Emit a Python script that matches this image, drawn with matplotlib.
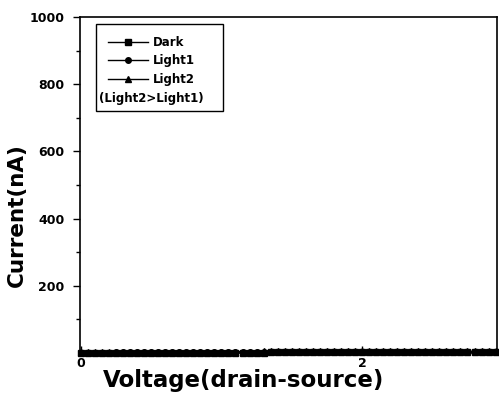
import matplotlib.pyplot as plt
from matplotlib.lines import Line2D
from matplotlib.patches import Rectangle
import numpy as np

# sweep 0 -> 3 V, 0.05 V steps
voltage = np.round(np.arange(0, 3.001, 0.05), 2)
# currents sit essentially at zero on the 0-1000 nA scale
dark = [0.5, 0.5, 0.6, 0.6, 0.7, 0.7, 0.8, 0.8, 0.9, 0.9, 1.0, 1.0, 1.0, 1.1, 1.1, 1.1,
        1.2, 1.2, 1.2, 1.3, 1.3, 1.3, 1.3, 1.4, 1.4, 1.4, 1.4, 1.5, 1.5, 1.5, 1.5,
        1.5, 1.6, 1.6, 1.6, 1.6, 1.6, 1.7, 1.7, 1.7, 1.7, 1.7, 1.7, 1.8, 1.8, 1.8,
        1.8, 1.8, 1.8, 1.8, 1.9, 1.9, 1.9, 1.9, 1.9, 1.9, 1.9, 1.9, 2.0, 2.0, 2.0]
light1 = [1.0, 1.1, 1.2, 1.3, 1.4, 1.5, 1.6, 1.7, 1.8, 1.9, 2.0, 2.0, 2.1, 2.1, 2.2, 2.2,
          2.3, 2.3, 2.4, 2.4, 2.5, 2.5, 2.5, 2.6, 2.6, 2.6, 2.7, 2.7, 2.7, 2.8, 2.8,
          2.8, 2.8, 2.9, 2.9, 2.9, 2.9, 3.0, 3.0, 3.0, 3.0, 3.0, 3.1, 3.1, 3.1, 3.1,
          3.1, 3.2, 3.2, 3.2, 3.2, 3.2, 3.2, 3.3, 3.3, 3.3, 3.3, 3.3, 3.3, 3.3, 3.4]
light2 = [1.5, 1.7, 1.9, 2.1, 2.3, 2.5, 2.7, 2.9, 3.1, 3.2, 3.3, 3.4, 3.5, 3.6, 3.7, 3.8,
          3.9, 4.0, 4.0, 4.1, 4.2, 4.2, 4.3, 4.3, 4.4, 4.4, 4.5, 4.5, 4.6, 4.6, 4.6,
          4.7, 4.7, 4.7, 4.8, 4.8, 4.8, 4.9, 4.9, 4.9, 4.9, 5.0, 5.0, 5.0, 5.0, 5.1,
          5.1, 5.1, 5.1, 5.1, 5.2, 5.2, 5.2, 5.2, 5.2, 5.2, 5.3, 5.3, 5.3, 5.3, 5.3]
labels = ['Dark', 'Light1', 'Light2']
note = '(Light2>Light1)'

plt.rcParams['font.family'] = ['DejaVu Sans']
plt.rcParams['font.weight'] = 'bold'

fig = plt.figure(figsize=(4.99, 4.0), dpi=100)
ax = fig.add_axes([0.160, 0.1175, 0.836, 0.84])

ax.plot(voltage, dark, '-', color='black', marker='s', ms=4, lw=1, clip_on=False)
ax.plot(voltage, light1, '-', color='black', marker='o', ms=4, lw=1, clip_on=False)
ax.plot(voltage, light2, '-', color='black', marker='^', ms=5, lw=1, clip_on=False)

ax.set_xlim(-0.007, 2.96)
ax.set_ylim(0, 1000)
ax.set_xticks([0, 2])
ax.set_xticks([1], minor=True)
ax.set_yticks([200, 400, 600, 800, 1000])
ax.set_yticks([100, 300, 500, 700, 900], minor=True)
ax.tick_params(axis='both', which='major', direction='out', length=5, width=1,
               labelsize=9, pad=6)
ax.tick_params(axis='both', which='minor', direction='out', length=3, width=1)
ax.tick_params(axis='x', which='both', direction='in', pad=3)
for lab in ax.get_xticklabels() + ax.get_yticklabels():
    lab.set_fontweight('heavy')

for s in ax.spines.values():
    s.set_linewidth(1.2)

ax.set_xlabel('Voltage(drain-source)', fontsize=16.5, fontweight='heavy')
ax.xaxis.set_label_coords(0.393, -0.049)
ax.set_ylabel('Current(nA)', fontsize=15.5, fontweight='heavy')
ax.yaxis.set_label_coords(-0.128, 0.41)

# legend box drawn by hand so the note line fits inside it
ax.add_patch(Rectangle((0.0384, 0.720), 0.305, 0.259, transform=ax.transAxes,
                       fill=False, edgecolor='black', lw=1.0, zorder=5))
handles = [
    Line2D([], [], color='black', lw=1, marker='s', ms=4),
    Line2D([], [], color='black', lw=1, marker='o', ms=4),
    Line2D([], [], color='black', lw=1, marker='^', ms=5),
]
leg = ax.legend(handles, labels, loc='upper left', bbox_to_anchor=(0.067, 0.944),
                fontsize=8.5, frameon=False, handlelength=3.4, handletextpad=0.45,
                borderpad=0, borderaxespad=0, labelspacing=0.48)
for t in leg.get_texts():
    t.set_fontweight('heavy')
ax.text(0.0456, 0.756, note, transform=ax.transAxes, fontsize=8.5,
        fontweight='heavy', va='center', ha='left', zorder=10)

fig.savefig('out.png', dpi=100)
